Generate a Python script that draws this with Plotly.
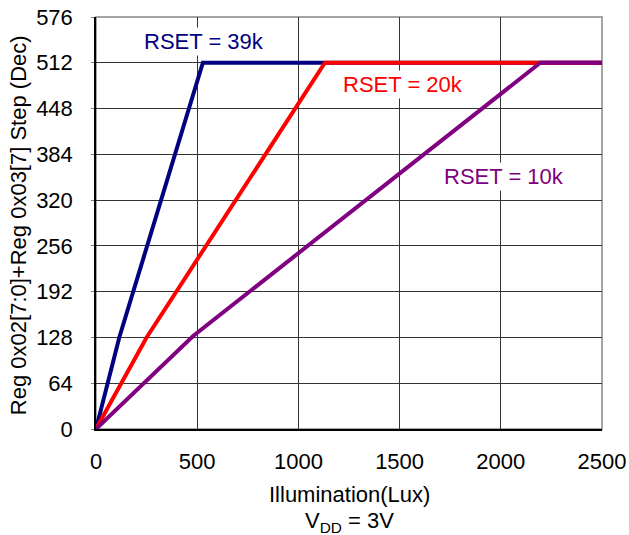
import plotly.graph_objects as go

# Illumination (lux) vs. register step for three RSET values
lux_39k = [0, 115, 528, 2500]
step_39k = [0, 128, 512, 512]

lux_20k = [0, 250, 1131, 2500]
step_20k = [0, 128, 512, 512]

lux_10k = [0, 480, 2195, 2500]
step_10k = [0, 130, 512, 512]

x_ticks = [0, 500, 1000, 1500, 2000, 2500]
y_ticks = [0, 64, 128, 192, 256, 320, 384, 448, 512, 576]

FONT = "Liberation Sans, Arial, sans-serif"
FS = 22
C39, C20, C10 = "#000080", "#FF0000", "#800080"

fig = go.Figure()
for xs, ys, col in [(lux_39k, step_39k, C39), (lux_20k, step_20k, C20), (lux_10k, step_10k, C10)]:
    fig.add_trace(go.Scatter(x=xs, y=ys, mode="lines",
                             line=dict(color=col, width=4), showlegend=False,
                             cliponaxis=False))

fig.update_layout(
    width=629, height=535,
    margin=dict(l=96, r=27, t=17, b=106, autoexpand=False),
    paper_bgcolor="white", plot_bgcolor="white",
    font=dict(family=FONT, size=FS, color="#000000"),
    xaxis=dict(range=[0, 2500], tickvals=x_ticks, showgrid=True,
               gridcolor="#333333", gridwidth=1, zeroline=False,
               showline=True, linecolor="#000000", linewidth=1.5,
               ticks="", ticklabelstandoff=12, automargin=False),
    yaxis=dict(range=[0, 576], tickvals=y_ticks, showgrid=True,
               gridcolor="#333333", gridwidth=1, zeroline=False,
               showline=True, linecolor="#000000", linewidth=1.5,
               ticks="outside", ticklen=3, tickcolor="#808080",
               ticklabelstandoff=14, automargin=False),
    shapes=[dict(type="rect", xref="paper", yref="paper", x0=0, y0=0, x1=1, y1=1,
                 line=dict(color="#888888", width=1.5), layer="below")],
    annotations=[
        dict(text="RSET = 39k", x=535, y=542, xref="x", yref="y", showarrow=False,
             font=dict(color=C39), bgcolor="white"),
        dict(text="RSET = 20k", x=1515, y=482, xref="x", yref="y", showarrow=False,
             font=dict(color=C20), bgcolor="white"),
        dict(text="RSET = 10k", x=2017, y=353, xref="x", yref="y", showarrow=False,
             font=dict(color=C10), bgcolor="white"),
        dict(text="Reg 0x02[7:0]+Reg 0x03[7] Step (Dec)", textangle=-90,
             x=-0.154, y=0.495, xref="paper", yref="paper",
             xanchor="center", yanchor="middle", showarrow=False),
        dict(text="Illumination(Lux)", x=0.5, y=-0.158, xref="paper", yref="paper",
             xanchor="center", yanchor="middle", showarrow=False),
        dict(text="V<sub>DD</sub> = 3V", x=0.5, y=-0.225, xref="paper", yref="paper",
             xanchor="center", yanchor="middle", showarrow=False),
    ],
)

fig.write_html("out.html")
